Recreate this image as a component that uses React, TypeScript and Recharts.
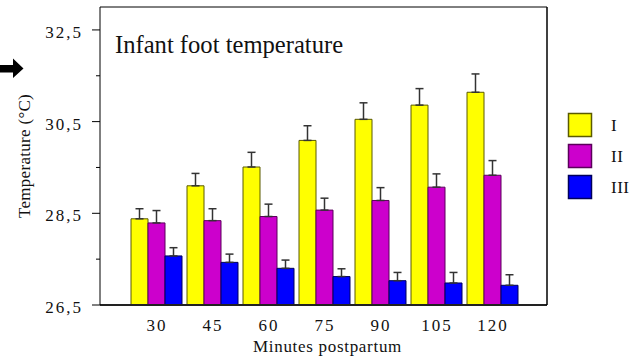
import React from 'react';
import { BarChart, Bar, XAxis, YAxis, ErrorBar, Legend, Label } from 'recharts';

const minutes = ['30', '45', '60', '75', '90', '105', '120'];

const groupI = [28.38, 29.1, 29.51, 30.09, 30.55, 30.86, 31.14];
const semI = [0.22, 0.27, 0.32, 0.32, 0.36, 0.36, 0.4];

const groupII = [28.29, 28.34, 28.43, 28.57, 28.78, 29.07, 29.33];
const semII = [0.27, 0.26, 0.27, 0.26, 0.28, 0.29, 0.32];

const groupIII = [27.57, 27.43, 27.3, 27.12, 27.03, 26.98, 26.93];
const semIII = [0.18, 0.18, 0.18, 0.17, 0.18, 0.23, 0.23];

const yTicks = [26.5, 27.5, 28.5, 29.5, 30.5, 31.5, 32.5];
const labelledTicks = [26.5, 28.5, 30.5, 32.5];

const series = [
  { key: 'I', err: 'errI', fill: '#FFFF00', stroke: '#5a5a00' },
  { key: 'II', err: 'errII', fill: '#CC00CC', stroke: '#5a005a' },
  { key: 'III', err: 'errIII', fill: '#0000FF', stroke: '#00005a' },
];

// error bars only go upwards, so the lower bound is 0
const data = minutes.map((m, i) => ({
  minute: m,
  I: groupI[i],
  II: groupII[i],
  III: groupIII[i],
  errI: [0, semI[i]],
  errII: [0, semII[i]],
  errIII: [0, semIII[i]],
}));

const serif = '"Liberation Serif", "Times New Roman", serif';
const txt = (size: number, spacing = 0): React.CSSProperties => ({
  fontFamily: serif,
  fontSize: size,
  letterSpacing: spacing,
  fill: '#111',
});

const YTick = (props: any) => {
  const { x, y, payload } = props;
  const major = labelledTicks.includes(payload.value);
  return (
    <g>
      <line x1={x - (major ? 8 : 4)} x2={x} y1={y} y2={y} stroke="#000" strokeWidth={1} />
      {major && (
        <text x={x - 17} y={y + 8} textAnchor="end" style={txt(17, 2)}>
          {payload.value.toFixed(1).replace('.', ',')}
        </text>
      )}
    </g>
  );
};

const XTick = (props: any) => {
  const { x, y, payload } = props;
  return (
    <text x={x + 1} y={y + 26} textAnchor="middle" style={txt(17, 2)}>
      {payload.value}
    </text>
  );
};

const LegendBox = () => (
  <svg width={70} height={92}>
    {series.map((s, i) => (
      <g key={s.key}>
        <rect x={1.5} y={1.5 + i * 31} width={23} height={23} fill={s.fill} stroke={s.stroke} strokeWidth={1.5} />
        <text x={44} y={19 + i * 31} style={txt(17, 0.5)}>
          {s.key}
        </text>
      </g>
    ))}
  </svg>
);

export default function App() {
  return (
    <div style={{ position: 'absolute', left: 0, top: 0, width: 638, height: 361, background: '#fff' }}>
      <BarChart
        width={638}
        height={361}
        data={data}
        margin={{ top: 6, right: 90, bottom: 0, left: 0 }}
        barCategoryGap={3}
        barGap={0}
      >
        <XAxis
          dataKey="minute"
          height={56}
          padding={{ left: 28, right: 27 }}
          tickLine={false}
          tickSize={0}
          tickMargin={0}
          tick={<XTick />}
          axisLine={{ stroke: '#222', strokeWidth: 2 }}
          interval={0}
        >
          <Label
            content={({ viewBox }: any) => (
              <text
                x={viewBox.x + viewBox.width / 2 + 4}
                y={viewBox.y + 47}
                textAnchor="middle"
                style={txt(17, 0.7)}
              >
                Minutes postpartum
              </text>
            )}
          />
        </XAxis>
        {/* top and right edges of the frame */}
        <XAxis
          xAxisId="top"
          dataKey="minute"
          orientation="top"
          height={1}
          tick={false}
          tickLine={false}
          axisLine={{ stroke: '#000', strokeWidth: 1 }}
        />
        <YAxis
          type="number"
          width={100}
          domain={[26.5, 33]}
          ticks={yTicks}
          interval={0}
          tickLine={false}
          tickSize={0}
          tickMargin={0}
          tick={<YTick />}
          axisLine={{ stroke: '#000', strokeWidth: 1 }}
          allowDataOverflow
        >
          <Label
            content={({ viewBox }: any) => {
              const cx = viewBox.x + 30;
              const cy = viewBox.y + viewBox.height / 2;
              return (
                <text
                  x={cx}
                  y={cy}
                  transform={`rotate(-90, ${cx}, ${cy})`}
                  textAnchor="middle"
                  style={txt(17, 0.3)}
                >
                  Temperature (°C)
                </text>
              );
            }}
          />
        </YAxis>
        <YAxis
          yAxisId="right"
          type="number"
          orientation="right"
          width={1}
          domain={[26.5, 33]}
          tick={false}
          tickLine={false}
          axisLine={{ stroke: '#000', strokeWidth: 1.5 }}
        />
        <Legend
          layout="vertical"
          align="center"
          verticalAlign="middle"
          content={<LegendBox />}
          wrapperStyle={{ left: 567, top: 112, width: 70, height: 92 }}
        />
        {series.map((s) => (
          <Bar key={s.key} dataKey={s.key} fill={s.fill} stroke={s.stroke} strokeWidth={1} isAnimationActive={false}>
            <ErrorBar dataKey={s.err} direction="y" width={4} stroke="#333" strokeWidth={1.5} isAnimationActive={false} />
          </Bar>
        ))}
        <text x={115} y={53} style={txt(24.6)}>
          Infant foot temperature
        </text>
        <polygon points="0,65 13,65 13,58.5 23.5,68.5 13,78 13,72.5 0,72.5" fill="#000" />
      </BarChart>
    </div>
  );
}
